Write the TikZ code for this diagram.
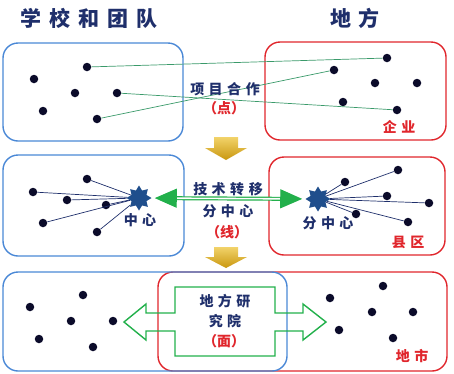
\documentclass[tikz,border=0pt]{standalone}
\usepackage{fontspec}
\setmainfont{Noto Sans CJK SC}
\usetikzlibrary{shapes.geometric,arrows.meta}
\definecolor{txtnavy}{HTML}{1F2F6B}
\definecolor{boxblue}{HTML}{4A88D6}
\definecolor{boxred}{HTML}{E0262C}
\definecolor{dotc}{HTML}{0B0B2A}
\definecolor{starc}{HTML}{1F4E8C}
\definecolor{linkgreen}{HTML}{3A9A6A}
\definecolor{arrgreen}{HTML}{22B04B}
\definecolor{goldA}{HTML}{F2D36A}
\definecolor{goldB}{HTML}{C9970F}
\newcommand\cjkgap{\hspace{4.5pt}}
\newcommand\titlegap{\hspace{8pt}}
\begin{document}
\begin{tikzpicture}[x=1pt,y=-1pt,
  bluebox/.style={draw=boxblue,line width=1.4pt,rounded corners=15pt},
  redbox/.style={draw=boxred,line width=1.4pt,rounded corners=15pt},
  dot/.style={circle,fill=dotc,inner sep=0pt,minimum size=8.5pt},
  hubstar/.style={star,star points=8,star point ratio=1.55,minimum size=25pt,inner sep=0pt,fill=starc},
  title/.style={text=txtnavy,font=\fontsize{21}{24}\selectfont\bfseries,inner sep=0pt},
  lab/.style={text=txtnavy,font=\fontsize{14}{16}\selectfont\bfseries,inner sep=0pt},
  redlab/.style={text=boxred,font=\fontsize{14}{16}\selectfont\bfseries,inner sep=0pt},
  link/.style={draw=linkgreen,line width=0.7pt},
  spoke/.style={draw=txtnavy,line width=0.7pt},
  goldarrow/.style={top color=goldA,bottom color=goldB,draw=none},
  greenarrow/.style={draw=arrgreen,line width=1.2pt,double=white,double distance=1.6pt,
     {Triangle[length=22pt,width=19pt]}-{Triangle[length=22pt,width=19pt]}},
  greenshape/.style={draw=arrgreen,line width=1.4pt}
]
\useasboundingbox (0,0) rectangle (454,373);

% titles
\node[title] (t1) at (89,18) {学\titlegap 校\titlegap 和\titlegap 团\titlegap 队};
\node[title] (t2) at (355,18) {地\titlegap 方};

% ---------- row 1 ----------
\draw[bluebox] (3,43) rectangle (183,141);
\draw[redbox] (265,42) rectangle (446,140);
\node[dot] (a1) at (87,67) {};
\node[dot] (a2) at (34,79) {};
\node[dot] (a3) at (75,93) {};
\node[dot] (a4) at (117,93) {};
\node[dot] (a5) at (43,111) {};
\node[dot] (a6) at (97,119) {};
\node[dot] (b1) at (387,58) {};
\node[dot] (b2) at (334,70) {};
\node[dot] (b3) at (375,83) {};
\node[dot] (b4) at (417,83) {};
\node[dot] (b5) at (343,102) {};
\node[dot] (b6) at (397,110) {};
\draw[link] (a1) -- (b1);
\draw[link] (a6) -- (b2);
\draw[link] (a4) -- (b6);
\node[lab] (l1) at (225,89) {项\cjkgap 目\cjkgap 合\cjkgap 作};
\node[redlab] (l2) at (224,108) {（点）};
\node[redlab] (l3) at (399,127) {企\cjkgap 业};

% gold arrows
\path[goldarrow] (214,137) -- (238,137) -- (238,148) -- (247,148) -- (226,160) -- (205,148) -- (214,148) -- cycle;
\path[goldarrow] (214,247) -- (238,247) -- (238,257) -- (247,257) -- (226,268) -- (205,257) -- (214,257) -- cycle;

% ---------- row 2 ----------
\draw[bluebox] (3,155) rectangle (184,256);
\draw[redbox] (269,157) rectangle (445,255);
\node[hubstar] (s1) at (139,198) {};
\node[hubstar] (s2) at (318,199) {};
\node[dot] (c1) at (87,179) {};
\node[dot] (c2) at (33,192) {};
\node[dot] (c3) at (67,200) {};
\node[dot] (c4) at (106,205) {};
\node[dot] (c5) at (43,223) {};
\node[dot] (c6) at (97,232) {};
\foreach \n in {c1,c2,c3,c4,c5,c6} \draw[spoke] (\n) -- (s1);
\node[dot] (e1) at (398,170) {};
\node[dot] (e2) at (345,182) {};
\node[dot] (e3) at (387,196) {};
\node[dot] (e4) at (429,203) {};
\node[dot] (e5) at (356,214) {};
\node[dot] (e6) at (408,222) {};
\foreach \n in {e1,e2,e3,e4,e5,e6} \draw[spoke] (s2) -- (\n);
\draw[greenarrow,shorten <=3pt,shorten >=3pt] (s1) -- (s2);
\node[lab] (m1) at (228,189) {技\cjkgap 术\cjkgap 转\cjkgap 移};
\node[lab] (m2) at (228,211) {分\cjkgap 中\cjkgap 心};
\node[redlab] (m3) at (227,232) {（线）};
\node[lab] (m4) at (140,220) {中\cjkgap 心};
\node[lab] (m5) at (328,223) {分\cjkgap 中\cjkgap 心};
\node[redlab] (m6) at (408,242) {县\cjkgap 区};

% ---------- row 3 ----------
\draw[redbox] (158,272) rectangle (447,371);
\draw[bluebox] (3,272) rectangle (287,371);
\node[dot] (f1) at (83,295) {};
\node[dot] (f2) at (30,307) {};
\node[dot] (f3) at (71,321) {};
\node[dot] (f4) at (113,321) {};
\node[dot] (f5) at (39,339) {};
\node[dot] (f6) at (93,347) {};
\node[dot] (g1) at (383,286) {};
\node[dot] (g2) at (330,298) {};
\node[dot] (g3) at (372,312) {};
\node[dot] (g4) at (413,312) {};
\node[dot] (g5) at (339,330) {};
\node[dot] (g6) at (393,338) {};
\draw[greenshape] (124,322) -- (146,304) -- (146,313) -- (175,313) -- (175,287) -- (275,287)
  -- (275,313) -- (303,313) -- (303,304) -- (326,322) -- (303,340) -- (303,331)
  -- (275,331) -- (275,356) -- (175,356) -- (175,331) -- (146,331) -- (146,340) -- cycle;
\node[lab] (r1) at (225,301) {地\cjkgap 方\cjkgap 研};
\node[lab] (r2) at (225,321) {究\cjkgap 院};
\node[redlab] (r3) at (224,341) {（面）};
\node[redlab] (r4) at (412,356) {地\cjkgap 市};
\end{tikzpicture}
\end{document}
